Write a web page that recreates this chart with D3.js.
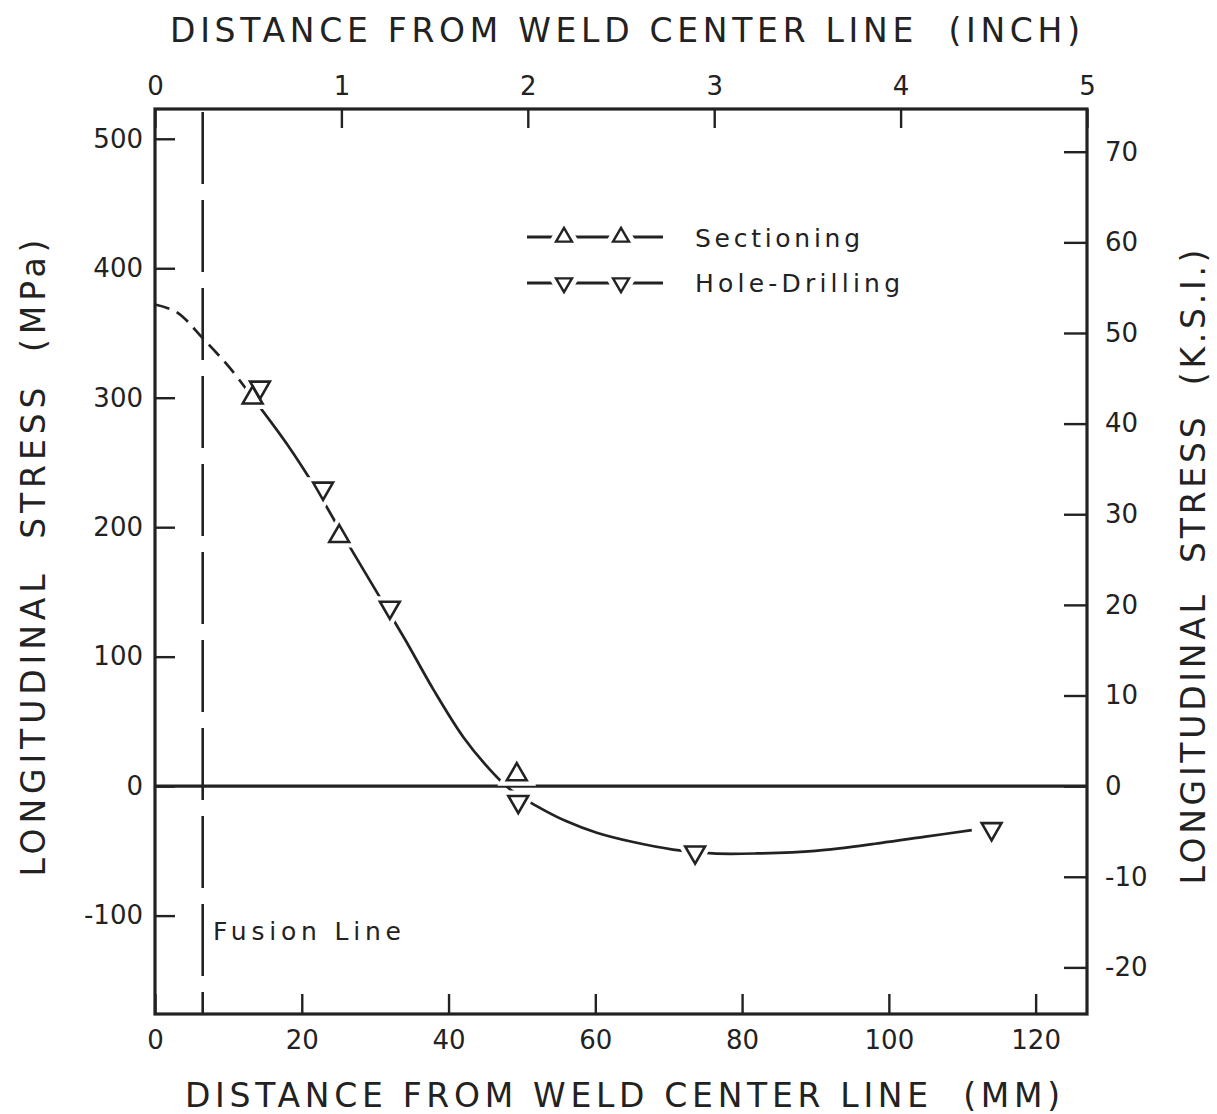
<!DOCTYPE html>
<html>
<head>
<meta charset="utf-8">
<script src="https://cdn.jsdelivr.net/npm/d3@7"></script>
<style>
  body { margin: 0; background: #fff; }
  text { font-family: "DejaVu Sans", sans-serif; fill: #222; }
</style>
</head>
<body>
<script>
// measured points (mm, MPa)
var sectMm  = [13.3, 25.1, 49.3];
var sectMPa = [300, 193, 9];
var holeMm  = [14.3, 22.9, 32.0, 49.5, 73.6, 114.0];
var holeMPa = [308, 230, 138, -12, -51, -33];

// hand-fitted curve
var dashMm  = [0, 3, 6.5, 10.2, 13.3];
var dashMPa = [372, 366, 346, 323, 300];
var fitMm  = [13.3, 18, 22, 26, 30, 34, 38, 42, 45.6, 48.5, 52.2, 56, 60.2, 65, 70.6, 76, 82, 90, 98.8, 105, 111.3];
var fitMPa = [300, 264, 229, 190, 152, 114, 74, 38, 13, -3, -16, -27, -36, -43, -49, -52, -52, -50, -44, -39, -34];

var fusionMm = 6.5;

// tick values
var mmTicks   = [0, 20, 40, 60, 80, 100, 120];
var inchTicks = [0, 1, 2, 3, 4, 5];
var mpaTicks  = [-100, 0, 100, 200, 300, 400, 500];
var ksiTicks  = [-20, -10, 0, 10, 20, 30, 40, 50, 60, 70];

(function(){

var W = 1217, H = 1114;
var pLeft = 155, pRight = 1087, pTop = 109, pBottom = 1014;

var x = d3.scaleLinear().domain([0, 127]).range([pLeft, pRight]);
var xIn = d3.scaleLinear().domain([0, 5]).range([pLeft, pRight]);
var y = d3.scaleLinear().domain([-176, 523]).range([pBottom, pTop]);
var yKsi = d3.scaleLinear().domain([-176 / 7.0, 523 / 7.0]).range([pBottom, pTop]);

var svg = d3.select("body").append("svg")
    .attr("width", W)
    .attr("height", H);

// axes (ticks point inward)
function styleAxis(g){
    g.select(".domain").remove();
    g.selectAll(".tick line").attr("stroke", "#222").attr("stroke-width", 2.4);
    g.selectAll(".tick text").style("font-size", "26px").style("fill", "#222")
        .style("font-family", "DejaVu Sans, sans-serif");
}
var fmt = function(d){ return String(d); };

svg.append("g").attr("transform", "translate(0," + pBottom + ")")
    .call(d3.axisBottom(x).tickValues(mmTicks).tickSize(-20).tickPadding(17).tickFormat(fmt))
    .call(styleAxis);
svg.append("g").attr("transform", "translate(0," + pTop + ")")
    .call(d3.axisTop(xIn).tickValues(inchTicks).tickSize(-19).tickPadding(14).tickFormat(fmt))
    .call(styleAxis);
svg.append("g").attr("transform", "translate(" + pLeft + ",0)")
    .call(d3.axisLeft(y).tickValues(mpaTicks).tickSize(-20).tickPadding(12).tickFormat(fmt))
    .call(styleAxis);
svg.append("g").attr("transform", "translate(" + pRight + ",0)")
    .call(d3.axisRight(yKsi).tickValues(ksiTicks).tickSize(-23).tickPadding(18).tickFormat(fmt))
    .call(styleAxis);

// frame
svg.append("rect")
    .attr("x", pLeft).attr("y", pTop)
    .attr("width", pRight - pLeft).attr("height", pBottom - pTop)
    .attr("fill", "none").attr("stroke", "#222").attr("stroke-width", 3.2);

// zero line
svg.append("line")
    .attr("x1", pLeft).attr("x2", pRight)
    .attr("y1", y(0)).attr("y2", y(0))
    .attr("stroke", "#222").attr("stroke-width", 3.4);

// fusion line
svg.append("line")
    .attr("x1", x(fusionMm)).attr("x2", x(fusionMm))
    .attr("y1", pTop + 3).attr("y2", pBottom)
    .attr("stroke", "#222").attr("stroke-width", 2.6)
    .attr("stroke-dasharray", "72,16");

svg.append("text")
    .attr("x", 213).attr("y", 940)
    .attr("textLength", 188).attr("lengthAdjust", "spacing")
    .style("font-size", "25px")
    .text("Fusion Line");

// fitted curve
var line = d3.line()
    .x(function(d){ return x(d[0]); })
    .y(function(d){ return y(d[1]); })
    .curve(d3.curveCatmullRom.alpha(0.5));

svg.append("path")
    .datum(d3.zip(dashMm, dashMPa))
    .attr("d", line)
    .attr("fill", "none").attr("stroke", "#222").attr("stroke-width", 2.7)
    .attr("stroke-dasharray", "15,8");

svg.append("path")
    .datum(d3.zip(fitMm, fitMPa))
    .attr("d", line)
    .attr("fill", "none").attr("stroke", "#222").attr("stroke-width", 2.7);

// markers
var tri = d3.symbol().type(d3.symbolTriangle).size(170);

function placeAt(rot){
    return function(d){ return "translate(" + x(d[0]) + "," + y(d[1]) + ") rotate(" + rot + ")"; };
}
// white halo first so the curve breaks round each marker
function haloMarkers(pts, rot){
    svg.append("g").selectAll("path")
        .data(pts).enter().append("path")
        .attr("d", tri)
        .attr("transform", placeAt(rot))
        .attr("fill", "#fff").attr("stroke", "#fff").attr("stroke-width", 11);
}
function strokeMarkers(pts, rot){
    svg.append("g").selectAll("path")
        .data(pts).enter().append("path")
        .attr("d", tri)
        .attr("transform", placeAt(rot))
        .attr("fill", "none").attr("stroke", "#222").attr("stroke-width", 2.6);
}
var sp = d3.zip(sectMm, sectMPa);
var hp = d3.zip(holeMm, holeMPa);
haloMarkers(sp, 0);
haloMarkers(hp, 180);
strokeMarkers(sp, 0);
strokeMarkers(hp, 180);

// legend
var legend = svg.append("g");
var rows = [
    {label: "Sectioning", rot: 0, y: 237, ty: 247, len: 165},
    {label: "Hole-Drilling", rot: 180, y: 283, ty: 292, len: 205}
];
rows.forEach(function(r){
    legend.append("line")
        .attr("x1", 527).attr("x2", 663)
        .attr("y1", r.y).attr("y2", r.y)
        .attr("stroke", "#222").attr("stroke-width", 2.8);
    [564, 621].forEach(function(cx){
        legend.append("path")
            .attr("d", d3.symbol().type(d3.symbolTriangle).size(110))
            .attr("transform", "translate(" + cx + "," + r.y + ") rotate(" + r.rot + ")")
            .attr("fill", "#fff").attr("stroke", "#fff").attr("stroke-width", 12);
        legend.append("path")
            .attr("d", d3.symbol().type(d3.symbolTriangle).size(110))
            .attr("transform", "translate(" + cx + "," + r.y + ") rotate(" + r.rot + ")")
            .attr("fill", "none").attr("stroke", "#222").attr("stroke-width", 2.4);
    });
    legend.append("text")
        .attr("x", 695).attr("y", r.ty)
        .attr("textLength", r.len).attr("lengthAdjust", "spacing")
        .style("font-size", "25px")
        .text(r.label);
});

// axis titles
svg.append("text")
    .attr("x", 170).attr("y", 42)
    .attr("textLength", 910).attr("lengthAdjust", "spacing")
    .style("font-size", "33px").style("white-space", "pre")
    .text("DISTANCE FROM WELD CENTER LINE  (INCH)");

svg.append("text")
    .attr("x", 185).attr("y", 1107)
    .attr("textLength", 875).attr("lengthAdjust", "spacing")
    .style("font-size", "33px").style("white-space", "pre")
    .text("DISTANCE FROM WELD CENTER LINE  (MM)");

svg.append("text")
    .attr("transform", "translate(45,558) rotate(-90)")
    .attr("text-anchor", "middle")
    .attr("textLength", 637).attr("lengthAdjust", "spacing")
    .style("font-size", "33px").style("white-space", "pre")
    .text("LONGITUDINAL  STRESS  (MPa)");

svg.append("text")
    .attr("transform", "translate(1205,567) rotate(-90)")
    .attr("text-anchor", "middle")
    .attr("textLength", 635).attr("lengthAdjust", "spacing")
    .style("font-size", "33px").style("white-space", "pre")
    .text("LONGITUDINAL  STRESS  (K.S.I.)");

})();
</script>
</body>
</html>
